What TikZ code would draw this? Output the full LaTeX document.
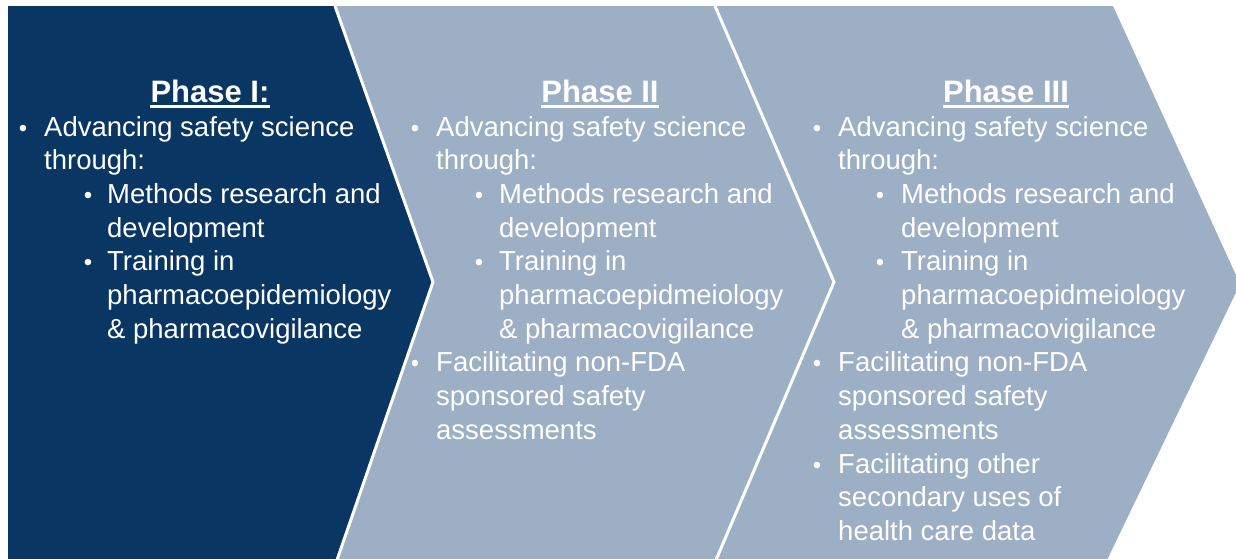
\documentclass[tikz,border=0pt]{standalone}
\usepackage{fontspec}
\setmainfont{Liberation Sans}
\definecolor{navy}{RGB}{9,54,99}
\definecolor{slate}{RGB}{157,175,196}
\begin{document}
\begin{tikzpicture}[x=1pt,y=-1pt,
  body/.style={anchor=base west,inner sep=0pt,text=white,font=\fontsize{27.5}{33}\selectfont},
  bul/.style={anchor=base,inner sep=0pt,text=white,font=\fontsize{24}{24}\selectfont},
  head/.style={anchor=base,inner sep=0pt,text=white,font=\fontsize{31}{36}\selectfont\bfseries},
  sepline/.style={draw=white,line width=3pt},
  uline/.style={draw=white,line width=2.2pt}]
\useasboundingbox (0,0) rectangle (1236,558);
\fill[white] (0,0) rectangle (1236,558);
\clip (0,0) rectangle (1236,558);
% chevrons
\coordinate (t1) at (335,6);
\coordinate (p1) at (433,282);
\coordinate (b1) at (337,560);
\coordinate (t2) at (715,6);
\coordinate (p2) at (834,282);
\coordinate (b2) at (716,560);
\coordinate (t3) at (1113,6);
\coordinate (p3) at (1240,284);
\coordinate (b3) at (1107,560);
\fill[navy] (8,6) -- (t1) -- (p1) -- (b1) -- (8,560) -- cycle;
\fill[slate] (t1) -- (t2) -- (p2) -- (b2) -- (b1) -- (p1) -- cycle;
\fill[slate] (t2) -- (t3) -- (p3) -- (b3) -- (b2) -- (p2) -- cycle;
\draw[sepline] (t1) -- (p1) -- (b1);
\draw[sepline] (t2) -- (p2) -- (b2);
% headings
\node[head] (h1) at (210,102) {Phase I:};
\node[head] (h2) at (600,102) {Phase II};
\node[head] (h3) at (1006,102) {Phase III};
\draw[uline] ([yshift=-4.5pt]h1.base west) -- ([yshift=-4.5pt]h1.base east);
\draw[uline] ([yshift=-4.5pt]h2.base west) -- ([yshift=-4.5pt]h2.base east);
\draw[uline] ([yshift=-4.5pt]h3.base west) -- ([yshift=-4.5pt]h3.base east);
% Phase I
\node[bul] (a1) at (23,136) {•};
\node[body] (a1t) at (44,136) {Advancing safety science};
\node[body] (a1u) at (44,169.7) {through:};
\node[bul] (a2) at (88,203.4) {•};
\node[body] (a2t) at (107,203.4) {Methods research and};
\node[body] (a2u) at (107,237.1) {development};
\node[bul] (a3) at (88,270.8) {•};
\node[body] (a3t) at (107,270.8) {Training in};
\node[body] (a3u) at (107,304.5) {pharmacoepidemiology};
\node[body] (a3v) at (107,338.2) {\& pharmacovigilance};
% Phase II
\node[bul] (b1b) at (415,136) {•};
\node[body] (b1t) at (436,136) {Advancing safety science};
\node[body] (b1u) at (436,169.7) {through:};
\node[bul] (b2b) at (479,203.4) {•};
\node[body] (b2t) at (499,203.4) {Methods research and};
\node[body] (b2u) at (499,237.1) {development};
\node[bul] (b3b) at (479,270.8) {•};
\node[body] (b3t) at (499,270.8) {Training in};
\node[body] (b3u) at (499,304.5) {pharmacoepidmeiology};
\node[body] (b3v) at (499,338.2) {\& pharmacovigilance};
\node[bul] (b4b) at (415,371.9) {•};
\node[body] (b4t) at (436,371.9) {Facilitating non-FDA};
\node[body] (b4u) at (436,405.6) {sponsored safety};
\node[body] (b4v) at (436,439.3) {assessments};
% Phase III
\node[bul] (c1b) at (817,136) {•};
\node[body] (c1t) at (838,136) {Advancing safety science};
\node[body] (c1u) at (838,169.7) {through:};
\node[bul] (c2b) at (880,203.4) {•};
\node[body] (c2t) at (901,203.4) {Methods research and};
\node[body] (c2u) at (901,237.1) {development};
\node[bul] (c3b) at (880,270.8) {•};
\node[body] (c3t) at (901,270.8) {Training in};
\node[body] (c3u) at (901,304.5) {pharmacoepidmeiology};
\node[body] (c3v) at (901,338.2) {\& pharmacovigilance};
\node[bul] (c4b) at (817,371.9) {•};
\node[body] (c4t) at (838,371.9) {Facilitating non-FDA};
\node[body] (c4u) at (838,405.6) {sponsored safety};
\node[body] (c4v) at (838,439.3) {assessments};
\node[bul] (c5b) at (817,473) {•};
\node[body] (c5t) at (838,473) {Facilitating other};
\node[body] (c5u) at (838,506.7) {secondary uses of};
\node[body] (c5v) at (838,540.4) {health care data};
\end{tikzpicture}
\end{document}
